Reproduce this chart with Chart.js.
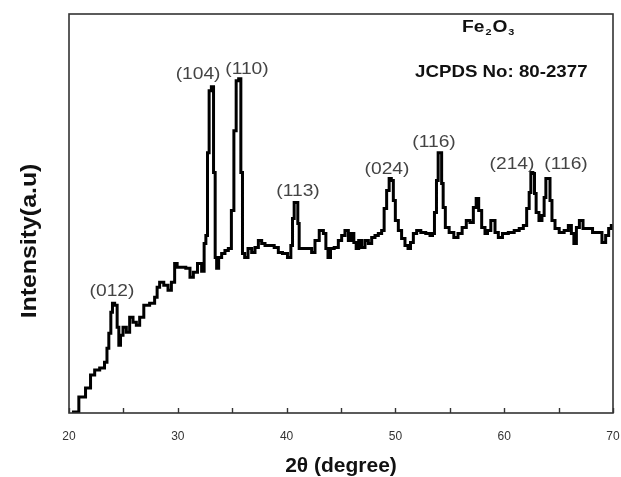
<!DOCTYPE html>
<html>
<head>
<meta charset="utf-8">
<title>Fe2O3 XRD</title>
<script src="https://cdn.jsdelivr.net/npm/chart.js@4.4.1/dist/chart.umd.min.js"></script>
<style>
  html, body { margin: 0; padding: 0; background: #fff; }
  #wrap { width: 621px; height: 477px; }
</style>
</head>
<body>
<div id="wrap"><canvas id="xrdChart" width="621" height="477"></canvas></div>
<script>
// diffraction pattern, 2θ in degrees and intensity in arbitrary units
const twoTheta = [
  20.30, 20.52, 21.29, 21.75, 22.21, 22.51, 23.13, 23.40, 23.58, 23.74, 23.95, 24.04,
  24.35, 24.50, 24.66, 24.81, 25.12, 25.42, 25.73, 26.04, 26.34, 26.65, 27.10, 27.72,
  28.02, 28.18, 28.48, 28.94, 29.26, 29.56, 29.86, 30.02, 30.51, 30.96, 31.28, 31.58,
  32.04, 32.34, 32.50, 32.66, 32.80, 32.96, 33.21, 33.36, 33.51, 33.63, 33.88, 34.18,
  34.49, 34.80, 35.05, 35.26, 35.47, 35.72, 35.87, 36.02, 36.27, 36.64, 36.94, 37.25,
  37.56, 37.86, 38.17, 38.63, 39.09, 39.39, 39.85, 40.31, 40.47, 40.62, 40.77, 40.98,
  41.08, 41.23, 41.69, 42.15, 42.45, 42.77, 43.23, 43.53, 43.69, 43.92, 44.15, 44.60,
  44.91, 45.21, 45.52, 45.83, 46.07, 46.29, 46.50, 46.75, 47.05, 47.36, 47.67, 47.97,
  48.28, 48.58, 48.89, 49.04, 49.35, 49.50, 49.75, 49.87, 50.12, 50.42, 50.72, 51.04,
  51.28, 51.50, 51.80, 52.11, 52.56, 53.02, 53.34, 53.48, 53.70, 53.85, 54.01, 54.19,
  54.31, 54.47, 54.71, 55.17, 55.57, 55.94, 56.33, 56.70, 57.01, 57.32, 57.53, 57.78,
  58.08, 58.39, 58.54, 59.00, 59.31, 59.61, 60.07, 60.69, 61.15, 61.61, 61.91, 62.22,
  62.37, 62.53, 62.74, 62.83, 63.04, 63.35, 63.59, 63.75, 63.91, 64.15, 64.27, 64.51,
  64.83, 65.28, 65.74, 66.05, 66.30, 66.51, 66.76, 67.06, 67.43, 67.89, 68.35, 68.80,
  69.17, 69.48, 69.72, 69.97
];
const intensity = [
  0, 1, 16, 25, 38, 43, 45, 51, 65, 80, 101, 110,
  108, 86, 68, 78, 86, 81, 96, 91, 88, 96, 108, 110,
  116, 126, 131, 128, 123, 131, 150, 146, 146, 145, 136, 141,
  150, 142, 170, 178, 261, 323, 327, 241, 156, 145, 156, 160,
  163, 165, 203, 283, 333, 335, 241, 160, 156, 165, 161, 166,
  173, 170, 168, 168, 166, 161, 160, 156, 168, 195, 211, 211,
  190, 165, 165, 165, 161, 173, 183, 180, 165, 156, 165, 166,
  173, 178, 183, 173, 180, 171, 165, 173, 166, 173, 170, 176,
  178, 180, 183, 205, 223, 235, 233, 213, 193, 183, 175, 168,
  165, 171, 180, 183, 181, 180, 178, 180, 201, 233, 261, 261,
  230, 206, 186, 181, 176, 180, 186, 193, 191, 206, 215, 203,
  186, 180, 183, 193, 181, 176, 180, 181, 183, 185, 188, 205,
  221, 241, 240, 220, 201, 193, 198, 216, 235, 235, 213, 193,
  185, 181, 183, 188, 180, 170, 186, 193, 185, 185, 181, 181,
  171, 178, 185, 188
];

// Miller indices written above the reflections
const peakLabels = ['(012)', '(104)', '(110)', '(113)', '(024)', '(116)', '(214)', '(116)'];
const peakX = [23.95, 31.86, 36.36, 41.05, 49.23, 53.55, 60.72, 65.68];
const peakY = [122, 339, 344, 222, 244, 271, 249, 249];

const xTicks = [20, 30, 40, 50, 60, 70];

const points = twoTheta.map((t, i) => ({ x: t, y: intensity[i] }));

// helper: text squeezed/stretched along its own direction
const wideText = (ctx, s, x, y, sx) => {
  ctx.save();
  ctx.translate(x, y);
  ctx.scale(sx, 1);
  ctx.fillText(s, 0, 0);
  ctx.restore();
};

// frame, inward ticks, y title and the text annotations
const xrdDecor = {
  id: 'xrdDecor',
  afterDraw(chart) {
    const { ctx, chartArea: a, scales } = chart;
    const xs = scales.x, ys = scales.y;
    ctx.save();

    ctx.strokeStyle = '#333';
    ctx.lineWidth = 1.6;
    ctx.strokeRect(a.left, a.top, a.right - a.left, a.bottom - a.top);

    ctx.lineWidth = 1.4;
    xs.ticks.forEach(t => {
      const px = Math.round(xs.getPixelForValue(t.value)) + 0.5;
      ctx.beginPath();
      ctx.moveTo(px, a.bottom);
      ctx.lineTo(px, a.bottom - 5);
      ctx.stroke();
    });

    ctx.fillStyle = '#444';
    ctx.font = '16px "Liberation Sans", Arial, sans-serif';
    ctx.textAlign = 'center';
    ctx.textBaseline = 'middle';
    peakLabels.forEach((lbl, i) => {
      wideText(ctx, lbl, xs.getPixelForValue(peakX[i]), ys.getPixelForValue(peakY[i]), 1.2);
    });

    // y axis title
    ctx.fillStyle = '#111';
    ctx.font = 'bold 22px "Liberation Sans", Arial, sans-serif';
    ctx.save();
    ctx.translate(30, 241);
    ctx.rotate(-Math.PI / 2);
    ctx.scale(1.13, 1);
    ctx.fillText('Intensity(a.u)', 0, 0);
    ctx.restore();

    // Fe2O3 with subscripts
    ctx.textAlign = 'left';
    ctx.textBaseline = 'alphabetic';
    let x = 462;
    const base = 32;
    const parts = [['Fe', 16, 0], ['2', 9, 3], ['O', 16, 0], ['3', 9, 3]];
    parts.forEach(([s, size, drop]) => {
      ctx.font = 'bold ' + size + 'px "Liberation Sans", Arial, sans-serif';
      wideText(ctx, s, x, base + drop, 1.2);
      x += ctx.measureText(s).width * 1.2 + 1;
    });

    ctx.font = 'bold 17px "Liberation Sans", Arial, sans-serif';
    wideText(ctx, 'JCPDS No: 80-2377', 415, 77, 1.1);

    ctx.restore();
  }
};

new Chart(document.getElementById('xrdChart'), {
  type: 'line',
  data: {
    datasets: [{
      data: points,
      borderColor: '#000',
      borderWidth: 3,
      pointRadius: 0,
      stepped: 'middle',
      fill: false
    }]
  },
  options: {
    responsive: false,
    animation: false,
    layout: { padding: { top: 14, right: 8, left: 0, bottom: 0 } },
    plugins: { legend: { display: false }, tooltip: { enabled: false } },
    scales: {
      x: {
        type: 'linear',
        min: 20,
        max: 70,
        grid: { display: false, drawTicks: false },
        border: { display: false },
        ticks: {
          stepSize: 5,
          padding: 16,
          color: '#333',
          font: { family: 'Liberation Sans', size: 12 },
          maxRotation: 0,
          autoSkip: false,
          callback: v => (xTicks.includes(v) ? v : '')
        },
        title: {
          display: true,
          text: '2θ (degree)',
          color: '#111',
          font: { family: 'Liberation Sans', size: 21, weight: 'bold', lineHeight: 1 },
          padding: { top: 0, bottom: 0 }
        },
        afterFit: s => {
          s.height = 64;
          s.paddingLeft = 0;
          s.paddingRight = 0;
        }
      },
      y: {
        min: 0,
        max: 400,
        grid: { display: false, drawTicks: false },
        border: { display: false },
        ticks: { display: false },
        afterFit: s => { s.width = 69; }
      }
    }
  },
  plugins: [xrdDecor]
});
</script>
</body>
</html>
